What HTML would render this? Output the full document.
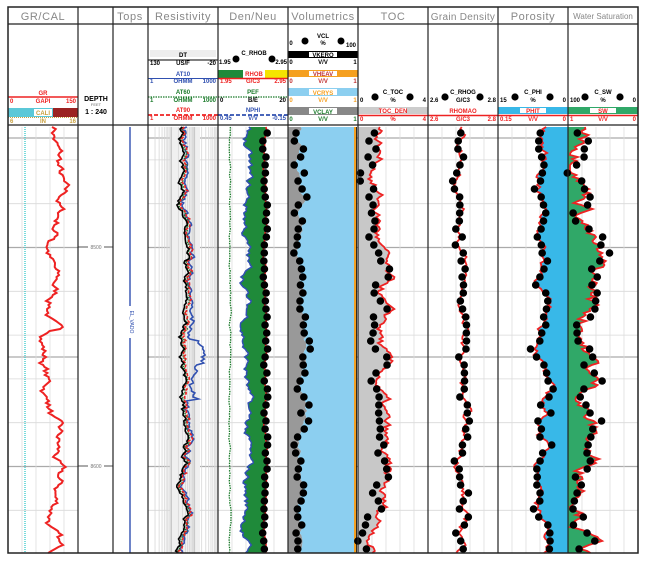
<!DOCTYPE html>
<html><head><meta charset="utf-8"><style>
html,body{margin:0;padding:0;background:#fff;}
svg text{font-family:"Liberation Sans",sans-serif;}
.t{font-size:11px;fill:#888;text-anchor:middle;letter-spacing:0.6px}
.s{font-size:6px;font-weight:bold;text-anchor:middle}
</style></head><body>
<svg id="g" width="650" height="563" viewBox="0 0 650 563" xmlns="http://www.w3.org/2000/svg">
<rect width="650" height="563" fill="#fff"/>
<g id="bg"></g>
<g id="data"></g>
<g id="hdr">
<text class="t" x="43" y="20">GR/CAL</text>
<text class="t" x="130" y="20">Tops</text>
<text class="t" x="183" y="20">Resistivity</text>
<text class="t" x="253" y="20">Den/Neu</text>
<text class="t" x="323" y="20">Volumetrics</text>
<text class="t" x="393" y="20">TOC</text>
<text class="t" x="463" y="20" style="font-size:10px;letter-spacing:0.3px">Grain Density</text>
<text class="t" x="533" y="20">Porosity</text>
<text class="t" x="603" y="19" style="font-size:8px;letter-spacing:0">Water Saturation</text>
<text class="s" x="43" y="95" fill="#e22">GR</text>
<line x1="8" y1="97" x2="78" y2="97" stroke="#e22" stroke-width="1.5"/>
<text class="s" x="10" y="103" fill="#e22" style="text-anchor:start">0</text>
<text class="s" x="43" y="103" fill="#e22">GAPI</text>
<text class="s" x="76" y="103" fill="#e22" style="text-anchor:end">150</text>
<rect x="8" y="108" width="45" height="9" fill="#5bc8d8"/>
<rect x="53" y="108" width="25" height="9" fill="#9b2222"/>
<rect x="34" y="109" width="18" height="7" fill="#fff"/>
<text class="s" x="43" y="115" fill="#c8a040">CALI</text>
<line x1="8" y1="117.5" x2="78" y2="117.5" stroke="#c8a040" stroke-dasharray="1,1"/>
<text class="s" x="10" y="123" fill="#c8a040" style="text-anchor:start">6</text>
<text class="s" x="43" y="123" fill="#c8a040">IN</text>
<text class="s" x="76" y="123" fill="#c8a040" style="text-anchor:end">16</text>
<text class="s" x="96" y="101" style="font-size:7px">DEPTH</text>
<text class="s" x="96" y="106" style="font-size:4px;font-weight:normal" fill="#666">FEET</text>
<text class="s" x="96" y="114" style="font-size:7px">1 : 240</text>
<rect x="150" y="50" width="66" height="7" fill="#eee"/>
<text class="s" x="183" y="57">DT</text>
<line x1="148" y1="60" x2="218" y2="60" stroke="#000" stroke-width="1"/>
<text class="s" x="150" y="65" style="text-anchor:start">130</text><text class="s" x="183" y="65">US/F</text><text class="s" x="216" y="65" style="text-anchor:end">-20</text>
<text class="s" x="183" y="76" fill="#3050b0">AT10</text>
<line x1="148" y1="78.5" x2="218" y2="78.5" stroke="#3050b0" stroke-width="1"/>
<text class="s" x="150" y="83" fill="#3050b0" style="text-anchor:start">1</text><text class="s" x="183" y="83" fill="#3050b0">OHMM</text><text class="s" x="216" y="83" fill="#3050b0" style="text-anchor:end">1000</text>
<text class="s" x="183" y="94" fill="#1a7a2a">AT60</text>
<line x1="148" y1="97" x2="218" y2="97" stroke="#1a7a2a" stroke-width="1.2" stroke-dasharray="1.5,1"/>
<text class="s" x="150" y="102" fill="#1a7a2a" style="text-anchor:start">1</text><text class="s" x="183" y="102" fill="#1a7a2a">OHMM</text><text class="s" x="216" y="102" fill="#1a7a2a" style="text-anchor:end">1000</text>
<text class="s" x="183" y="112" fill="#e22">AT90</text>
<line x1="148" y1="115" x2="218" y2="115" stroke="#e22" stroke-width="1.8" stroke-dasharray="4,2"/>
<text class="s" x="150" y="120" fill="#e22" style="text-anchor:start">1</text><text class="s" x="183" y="120" fill="#e22">OHMM</text><text class="s" x="216" y="120" fill="#e22" style="text-anchor:end">1000</text>
<circle cx="236" cy="59" r="3.5"/><circle cx="272" cy="59" r="3.5"/>
<text class="s" x="254" y="55">C_RHOB</text>
<text class="s" x="219" y="64" style="text-anchor:start">1.95</text><text class="s" x="287" y="64" style="text-anchor:end">2.95</text>
<rect x="218" y="70" width="25" height="8" fill="#1f8a3a"/><rect x="265" y="70" width="23" height="8" fill="#f5e400"/>
<text class="s" x="254" y="76" fill="#e22">RHOB</text>
<line x1="218" y1="78.5" x2="288" y2="78.5" stroke="#e22" stroke-width="1.5"/>
<text class="s" x="220" y="83" fill="#e22" style="text-anchor:start">1.95</text><text class="s" x="253" y="83" fill="#e22">G/C3</text><text class="s" x="286" y="83" fill="#e22" style="text-anchor:end">2.95</text>
<text class="s" x="253" y="94" fill="#1a7a2a">PEF</text>
<line x1="218" y1="97" x2="288" y2="97" stroke="#1a7a2a" stroke-width="1.2" stroke-dasharray="1.5,1"/>
<text class="s" x="220" y="102" style="text-anchor:start">0</text><text class="s" x="253" y="102">B/E</text><text class="s" x="286" y="102" style="text-anchor:end">20</text>
<text class="s" x="253" y="112" fill="#3050b0">NPHI</text>
<line x1="218" y1="115" x2="288" y2="115" stroke="#3050b0" stroke-width="1.8" stroke-dasharray="4,2"/>
<text class="s" x="220" y="120" fill="#3050b0" style="text-anchor:start">0.45</text><text class="s" x="253" y="120" fill="#3050b0">V/V</text><text class="s" x="286" y="120" fill="#3050b0" style="text-anchor:end">-0.15</text>
<circle cx="305" cy="41" r="3.5"/><circle cx="341" cy="41" r="3.5"/>
<text class="s" x="323" y="38">VCL</text><text class="s" x="323" y="45">%</text>
<text class="s" x="291" y="45">0</text><text class="s" x="351" y="47">100</text>
<rect x="288" y="51" width="70" height="7" fill="#000"/><rect x="309" y="52" width="28" height="5" fill="#fff"/>
<text class="s" x="323" y="57">VKERO</text>
<text class="s" x="291" y="64">0</text><text class="s" x="323" y="64">V/V</text><text class="s" x="355" y="64">1</text>
<rect x="288" y="70" width="70" height="7" fill="#f5a020"/><rect x="309" y="71" width="28" height="5" fill="#fff"/>
<text class="s" x="323" y="76" fill="#c03030">VHEAV</text>
<text class="s" x="291" y="83" fill="#c03030">0</text><text class="s" x="323" y="83" fill="#c03030">V/V</text><text class="s" x="355" y="83" fill="#c03030">1</text>
<rect x="288" y="88" width="70" height="8" fill="#8ccff0"/><rect x="309" y="89" width="28" height="6" fill="#fff"/>
<text class="s" x="323" y="95" fill="#f5a020">VCRYS</text>
<text class="s" x="291" y="102" fill="#f5a020">0</text><text class="s" x="323" y="102" fill="#f5a020">V/V</text><text class="s" x="355" y="102" fill="#f5a020">1</text>
<rect x="288" y="107" width="70" height="8" fill="#888"/><rect x="309" y="108" width="28" height="6" fill="#fff"/>
<text class="s" x="323" y="114" fill="#1a7a2a">VCLAY</text>
<text class="s" x="291" y="121" fill="#1a7a2a">0</text><text class="s" x="323" y="121" fill="#1a7a2a">V/V</text><text class="s" x="355" y="121" fill="#1a7a2a">1</text>
</g>
<g id="hdr2"></g>
<g id="frame"></g>
</svg>
<script>
var NS="http://www.w3.org/2000/svg";
function el(p,t,a,txt){var e=document.createElementNS(NS,t);for(var k in a)e.setAttribute(k,a[k]);if(txt!=null)e.textContent=txt;document.getElementById(p).appendChild(e);return e;}
var seed=7;function rnd(){seed=(seed*16807)%2147483647;return seed/2147483647;}
var cols=[8,78,113,148,218,288,358,428,498,568,638];
var Y0=127,Y1=553;
[0,3,4,5,6,7,8,9].forEach(function(i){
 var a=cols[i],b=cols[i+1];
 for(var y=138;y<Y1;y+=21.9){
   var d=Math.round((y-247)/21.9);var maj=(d%5==0);
   if(d%2!=0&&!maj) continue;
   el("bg","line",{x1:a,x2:b,y1:y,y2:y,stroke:maj?"#aaa":"#d8d8d8","stroke-width":maj?1.2:0.8});
 }
 if(i==3){
   el("bg","rect",{x:170,y:Y0,width:30,height:Y1-Y0,fill:"#f0f0f0"});
   for(var dcd=0;dcd<3;dcd++)for(var m=1;m<10;m++){var x=a+(dcd+Math.log10(m))*(70/3);
     el("bg","line",{x1:x,x2:x,y1:Y0,y2:Y1,stroke:m==1?"#bbb":"#d6d6d6","stroke-width":0.8});}
 } else if(i!=2){
   for(var k=1;k<5;k++){var x=a+k*(b-a)/5;el("bg","line",{x1:x,x2:x,y1:Y0,y2:Y1,stroke:"#ddd","stroke-width":0.8});}
 }
});
[[247,"8500"],[466,"8600"]].forEach(function(d){
 el("bg","line",{x1:78,x2:88,y1:d[0],y2:d[0],stroke:"#555"});el("bg","line",{x1:104,x2:113,y1:d[0],y2:d[0],stroke:"#555"});
 el("bg","text",{x:96,y:d[0]+2,"font-size":"5","text-anchor":"middle",fill:"#777"},d[1]);
});
function walk(n,base,amp,sm,lo,hi){var v=base,o=[];for(var i=0;i<n;i++){v+= (rnd()-0.5)*amp + (base-v)*sm;if(v<lo)v=lo;if(v>hi)v=hi;o.push(v);}return o;}
var step=2,N=Math.floor((Y1-Y0)/step)+1;
function ys(i){return Y0+i*step;}
function pathOf(xs){return xs.map(function(x,i){return (i?"L":"M")+x.toFixed(1)+","+ys(i);}).join("");}
function fillBetween(xa,xb){var d=pathOf(xa);for(var i=xb.length-1;i>=0;i--)d+="L"+xb[i].toFixed(1)+","+ys(i);return d+"Z";}
function cst(v){var o=[];for(var i=0;i<N;i++)o.push(v);return o;}
function dots(xs,g,jit){for(var i=3;i<N;i+=4){el("data","circle",{cx:xs[i]+(rnd()-0.5)*jit,cy:ys(i),r:3.8,fill:"#000"});}}
var gr=walk(N,52,8,0.08,36,66);
for(var i=0;i<N;i++){var y=ys(i);if(y<240)gr[i]+=4;if(y>330&&y<400)gr[i]-=6;}
el("data","line",{x1:25,x2:25,y1:Y0,y2:Y1,stroke:"#4cc","stroke-width":1.4,"stroke-dasharray":"1,1"});
el("data","path",{d:pathOf(gr),fill:"none",stroke:"#e22","stroke-width":2});
el("data","line",{x1:130,x2:130,y1:Y0,y2:Y1,stroke:"#3050b0","stroke-width":1.4});
el("data","rect",{x:127,y:306,width:6,height:32,fill:"#fff"});
el("data","text",{x:130,y:322,"font-size":"5",fill:"#3050b0","text-anchor":"middle",transform:"rotate(90 130 322)"},"EL_VADO");
var base=walk(N,184,4,0.15,172,200);
function offs(a,sd){var o=[];for(var i=0;i<N;i++)o.push(base[i]+a+(rnd()-0.5)*sd);return o;}
var blue=offs(3,4);for(var i=0;i<N;i++){var y=ys(i);if(y>340&&y<400)blue[i]+=10+8*Math.sin((y-340)/9);if(y>300&&y<340)blue[i]+=4;}
el("data","path",{d:pathOf(blue),fill:"none",stroke:"#3050b0","stroke-width":1.6});
el("data","path",{d:pathOf(offs(1,3)),fill:"none",stroke:"#1a7a2a","stroke-width":1.4,"stroke-dasharray":"1.5,1"});
el("data","path",{d:pathOf(offs(2,3)),fill:"none",stroke:"#e22","stroke-width":1.6,"stroke-dasharray":"3,1.5"});
el("data","path",{d:pathOf(offs(-1,2)),fill:"none",stroke:"#000","stroke-width":1.6});
var pef=walk(N,230,1,0.2,227,234);
var rhob=walk(N,265,2,0.2,260,270);
var nphi=walk(N,246,6,0.15,236,258);
el("data","path",{d:fillBetween(nphi,rhob),fill:"#1f8a3a",stroke:"none"});
el("data","path",{d:pathOf(nphi),fill:"none",stroke:"#3050b0","stroke-width":1.5});
el("data","path",{d:pathOf(rhob),fill:"none",stroke:"#e22","stroke-width":1.6});
el("data","path",{d:pathOf(pef),fill:"none",stroke:"#1a7a2a","stroke-width":1.3,"stroke-dasharray":"1.5,1"});
dots(rhob,0,3);
var vcl=walk(N,302,4,0.12,291,318);
el("data","path",{d:fillBetween(cst(288),vcl),fill:"#999"});
el("data","path",{d:fillBetween(vcl,cst(355)),fill:"#8ccff0"});
el("data","rect",{x:354,y:Y0,width:2.5,height:Y1-Y0,fill:"#f5a020"});
el("data","line",{x1:356.5,x2:356.5,y1:Y0,y2:Y1,stroke:"#000","stroke-width":0.8});
dots(vcl,0,10);
var toc=walk(N,378,9,0.1,362,405);
el("data","path",{d:fillBetween(cst(358),toc),fill:"#c8c8c8"});
el("data","path",{d:pathOf(toc),fill:"none",stroke:"#e22","stroke-width":1.8});
dots(toc.map(function(v){return v-6;}),0,12);
var gd=walk(N,462,6,0.15,448,478);
el("data","path",{d:pathOf(gd),fill:"none",stroke:"#e22","stroke-width":1.8});
dots(gd,0,8);
var ph=walk(N,543,7,0.12,525,562);
el("data","path",{d:fillBetween(ph,cst(568)),fill:"#38b8e8"});
el("data","path",{d:pathOf(ph),fill:"none",stroke:"#e22","stroke-width":1.8});
dots(ph,0,8);
var sw=walk(N,590,14,0.12,570,620);
el("data","path",{d:fillBetween(cst(568),sw),fill:"#30a868"});
el("data","path",{d:pathOf(sw),fill:"none",stroke:"#e22","stroke-width":1.8});
dots(sw,0,16);
[["C_TOC","%","0","4","TOC_DEN","%","0","4","#ccc",358],["C_RHOG","G/C3","2.6","2.8","RHOMAO","G/C3","2.6","2.8","#fff",428],["C_PHI","%","15","0","PHIT","V/V","0.15","0","#38b8e8",498],["C_SW","%","100","0","SW","V/V","1","0","#30a868",568]].forEach(function(h){
 var a=h[9],c=a+35;
 el("hdr2","circle",{cx:a+17,cy:97,r:3.6});el("hdr2","circle",{cx:a+52,cy:97,r:3.6});
 el("hdr2","text",{class:"s",x:c,y:94},h[0]);el("hdr2","text",{class:"s",x:c,y:102},h[1]);
 el("hdr2","text",{class:"s",x:a+2,y:102,style:"text-anchor:start"},h[2]);el("hdr2","text",{class:"s",x:a+68,y:102,style:"text-anchor:end"},h[3]);
 el("hdr2","rect",{x:a,y:107,width:70,height:7,fill:h[8]});el("hdr2","rect",{x:c-13,y:108,width:26,height:5,fill:"#fff"});
 el("hdr2","text",{class:"s",x:c,y:113,fill:"#e22"},h[4]);
 el("hdr2","line",{x1:a,x2:a+70,y1:115.5,y2:115.5,stroke:"#e22","stroke-width":1.5});
 el("hdr2","text",{class:"s",x:a+2,y:121,fill:"#e22",style:"text-anchor:start"},h[6]);el("hdr2","text",{class:"s",x:c,y:121,fill:"#e22"},h[5]);el("hdr2","text",{class:"s",x:a+68,y:121,fill:"#e22",style:"text-anchor:end"},h[7]);
});
el("frame","rect",{x:8,y:7,width:630,height:546,fill:"none",stroke:"#222","stroke-width":1.5});
[24,125].forEach(function(y){el("frame","line",{x1:8,x2:638,y1:y,y2:y,stroke:"#222","stroke-width":1.2});});
cols.slice(1,10).forEach(function(x){el("frame","line",{x1:x,x2:x,y1:7,y2:553,stroke:"#222","stroke-width":1.2});});
</script>
</body></html>
